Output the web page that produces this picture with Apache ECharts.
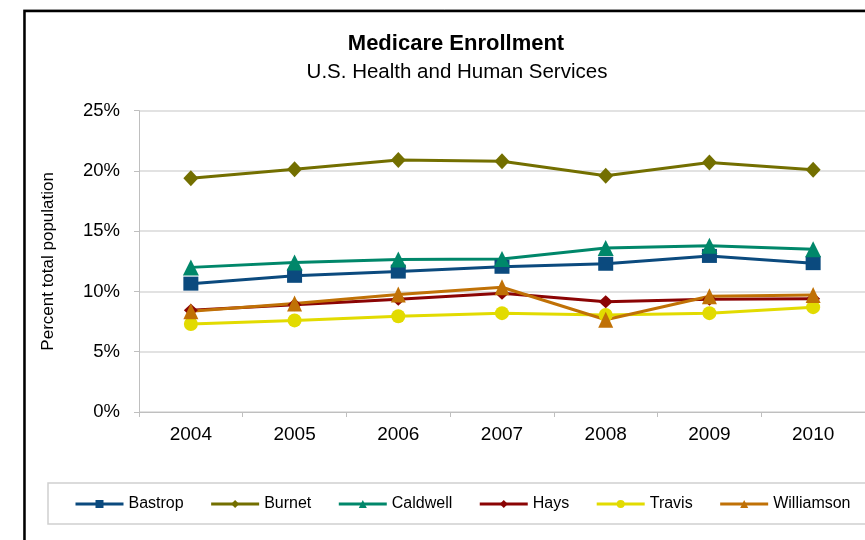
<!DOCTYPE html>
<html>
<head>
<meta charset="utf-8">
<script src="https://cdn.jsdelivr.net/npm/echarts@6/dist/echarts.min.js"></script>
<style>
html,body{margin:0;padding:0;background:#fff;}
#chart{width:865px;height:540px;}
</style>
</head>
<body>
<div id="chart"></div>
<script>
const years = ['2004','2005','2006','2007','2008','2009','2010'];
const yTicks = [0, 5, 10, 15, 20, 25];
const bastrop    = [10.65, 11.3, 11.65, 12.05, 12.3, 12.95, 12.35];
const burnet     = [19.4, 20.15, 20.9, 20.8, 19.6, 20.7, 20.1];
const caldwell   = [12.0, 12.4, 12.65, 12.7, 13.6, 13.8, 13.5];
const hays       = [8.45, 8.9, 9.35, 9.85, 9.15, 9.35, 9.4];
const travis     = [7.3, 7.6, 7.95, 8.2, 8.05, 8.2, 8.7];
const williamson = [8.35, 9.0, 9.75, 10.35, 7.65, 9.6, 9.7];

const FONT = 'Liberation Sans, Arial, sans-serif';

function mk(name, data, color, symbol, size) {
  return {
    name: name, type: 'line', data: data,
    symbol: symbol, symbolSize: size, showSymbol: true,
    lineStyle: {color: color, width: 3},
    itemStyle: {color: color, borderWidth: 0},
    emphasis: {disabled: true}
  };
}

const chart = echarts.init(document.getElementById('chart'), null, {renderer: 'canvas'});
chart.setOption({
  animation: false,
  backgroundColor: '#fff',
  graphic: [
    {type: 'rect', z: -10, shape: {x: 23.5, y: 9.5, width: 1000, height: 1000}, style: {fill: 'none', stroke: '#c8c8c8', lineWidth: 1}},
    {type: 'rect', z: -9, shape: {x: 24.5, y: 11, width: 1000, height: 1000}, style: {fill: '#fff', stroke: '#000', lineWidth: 2.5}},
    {type: 'rect', z: -8, shape: {x: 48, y: 483, width: 1000, height: 41}, style: {fill: '#fff', stroke: '#d0d0d0', lineWidth: 1.5}},
    {type: 'text', z: 10, style: {text: 'Medicare Enrollment', x: 456, y: 44, align: 'center', verticalAlign: 'middle', font: 'bold 22px ' + FONT, fill: '#000'}},
    {type: 'text', z: 10, style: {text: 'U.S. Health and Human Services', x: 457, y: 72, align: 'center', verticalAlign: 'middle', font: '20.5px ' + FONT, fill: '#000'}}
  ],
  legend: {
    left: 74, top: 496, padding: 0,
    itemWidth: 48, itemHeight: 10, itemGap: 26,
    lineStyle: {width: 3},
    textStyle: {fontSize: 16, fontFamily: FONT, color: '#000'},
    data: ['Bastrop','Burnet','Caldwell','Hays','Travis','Williamson']
  },
  grid: {left: 139, right: 0, top: 110.7, bottom: 128, containLabel: false},
  xAxis: {
    type: 'category', data: years, boundaryGap: true,
    axisLine: {lineStyle: {color: '#bfbfbf', width: 1}},
    axisTick: {show: true, length: 5, lineStyle: {color: '#bfbfbf'}},
    axisLabel: {fontSize: 19, fontFamily: FONT, color: '#000', margin: 13}
  },
  yAxis: {
    type: 'value', min: 0, max: 25, interval: 5,
    name: 'Percent total population', nameLocation: 'middle', nameGap: 82,
    nameTextStyle: {fontSize: 17, fontFamily: FONT, color: '#000'},
    axisLine: {show: true, lineStyle: {color: '#bfbfbf', width: 1}},
    axisTick: {show: true, length: 5, lineStyle: {color: '#bfbfbf'}},
    axisLabel: {fontSize: 18.5, fontFamily: FONT, color: '#000', margin: 19,
      formatter: function (v) { return yTicks.indexOf(v) >= 0 ? v + '%' : ''; }},
    splitLine: {show: true, lineStyle: {color: '#d8d8d8', width: 1.5}}
  },
  series: [
    mk('Bastrop', bastrop, '#0B4A7E', 'rect', [15, 14]),
    mk('Burnet', burnet, '#736F00', 'diamond', [15, 16]),
    mk('Caldwell', caldwell, '#00876A', 'triangle', [16, 16]),
    mk('Hays', hays, '#8B0404', 'diamond', [14, 13]),
    mk('Travis', travis, '#E2DB00', 'circle', 14),
    mk('Williamson', williamson, '#C07106', 'triangle', [15, 16])
  ]
});
</script>
</body>
</html>
